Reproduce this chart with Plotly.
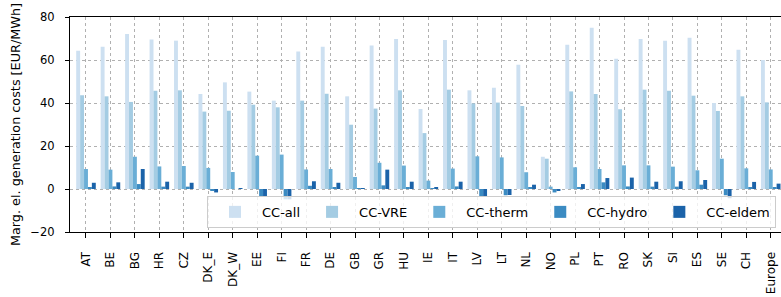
import plotly.graph_objects as go

countries = ["AT", "BE", "BG", "HR", "CZ", "DK_E", "DK_W", "EE", "FI", "FR", "DE", "GB", "GR", "HU",
             "IE", "IT", "LV", "LT", "NL", "NO", "PL", "PT", "RO", "SK", "SI", "ES", "SE", "CH", "Europe"]

cc_all = [64.3, 66.2, 72.1, 69.5, 69.0, 44.2, 49.6, 45.3, 41.1, 64.0, 66.2, 43.1, 66.8, 69.8,
          37.2, 69.3, 45.9, 47.1, 57.8, 15.0, 67.1, 75.0, 60.6, 69.8, 69.0, 70.4, 40.0, 64.8, 60.0]
cc_vre = [43.6, 43.1, 40.5, 45.7, 45.9, 36.0, 36.4, 39.2, 38.0, 41.1, 44.3, 29.9, 37.4, 45.9,
          26.0, 46.2, 39.8, 40.2, 38.6, 14.1, 45.4, 44.2, 37.1, 46.2, 45.7, 43.4, 36.3, 43.1, 40.3]
cc_therm = [9.3, 9.0, 15.0, 10.5, 10.7, 9.8, 7.9, 15.5, 16.0, 9.1, 9.3, 5.6, 12.2, 10.9,
            3.9, 9.5, 15.2, 14.7, 7.8, 1.1, 10.1, 9.3, 11.0, 11.0, 10.4, 8.7, 14.1, 9.6, 9.1]
cc_hydro = [0.6, 1.2, 2.3, 1.1, 1.1, -0.8, 0.0, -3.7, -4.8, 1.5, 0.9, 0.2, 1.7, 0.9,
            0.3, 1.2, -3.7, -2.9, 0.8, -1.6, 0.5, 3.1, 1.2, 1.1, 1.1, 2.0, -2.9, 0.9, 0.6]
cc_eldem = [2.9, 3.1, 9.3, 3.4, 2.9, -1.6, 0.1, -3.4, -4.8, 3.6, 2.9, 0.2, 9.0, 3.4,
            0.6, 3.4, -3.4, -2.8, 2.0, -0.6, 2.3, 5.1, 5.3, 3.4, 3.6, 4.2, -4.3, 3.3, 2.5]

series = [
    ("CC-all", cc_all, "#cde0f1"),
    ("CC-VRE", cc_vre, "#a4cce3"),
    ("CC-therm", cc_therm, "#6aaed6"),
    ("CC-hydro", cc_hydro, "#3b8bc2"),
    ("CC-eldem", cc_eldem, "#1b63a9"),
]

fig = go.Figure()
for name, vals, col in series:
    fig.add_trace(go.Bar(x=list(range(len(countries))), y=vals, name=name,
                         marker=dict(color=col, line=dict(width=0))))

font = "DejaVu Sans, Arial, sans-serif"
fig.update_layout(
    width=781, height=297,
    margin=dict(l=70, r=0, t=17, b=65, autoexpand=False),
    barmode="group", bargap=0.2, bargroupgap=0,
    plot_bgcolor="white", paper_bgcolor="white",
    font=dict(family=font, size=12, color="black"),
    showlegend=True,
    legend=dict(orientation="h", x=0.1927, xanchor="left", y=0.019, yanchor="bottom",
                bgcolor="rgba(255,255,255,0.8)", bordercolor="#cccccc", borderwidth=1,
                font=dict(size=13), itemwidth=44,
                tracegroupgap=0, itemsizing="constant"),
    xaxis=dict(
        range=[-0.654, 28.42], tickmode="array",
        tickvals=list(range(len(countries))), ticktext=countries,
        tickangle=-90, ticks="outside", ticklen=5, tickwidth=1, tickcolor="black",
        ticklabeloverflow="allow", ticklabelstandoff=9, automargin=False,
        showline=True, linecolor="black", linewidth=1.3, mirror=True,
        showgrid=True, gridcolor="#b0b0b0", griddash="dot", gridwidth=1,
        zeroline=False, tickfont=dict(size=12),
    ),
    yaxis=dict(
        range=[-20, 80], tickmode="array", tickvals=[-20, 0, 20, 40, 60, 80],
        ticktext=["\u221220", "0", "20", "40", "60", "80"],
        ticks="outside", ticklen=4, tickwidth=1, tickcolor="black",
        ticklabelstandoff=8, automargin=False,
        showline=True, linecolor="black", linewidth=1.3, mirror=False,
        showgrid=True, gridcolor="#b0b0b0", griddash="dot", gridwidth=1,
        zeroline=False, tickfont=dict(size=11.5),
        title=dict(text="Marg. el. generation costs [EUR/MWh]", font=dict(size=12.8), standoff=6),
    ),
)

fig.write_html("out.html", config={"displayModeBar": False},
               post_script="document.body.style.margin='0';")
